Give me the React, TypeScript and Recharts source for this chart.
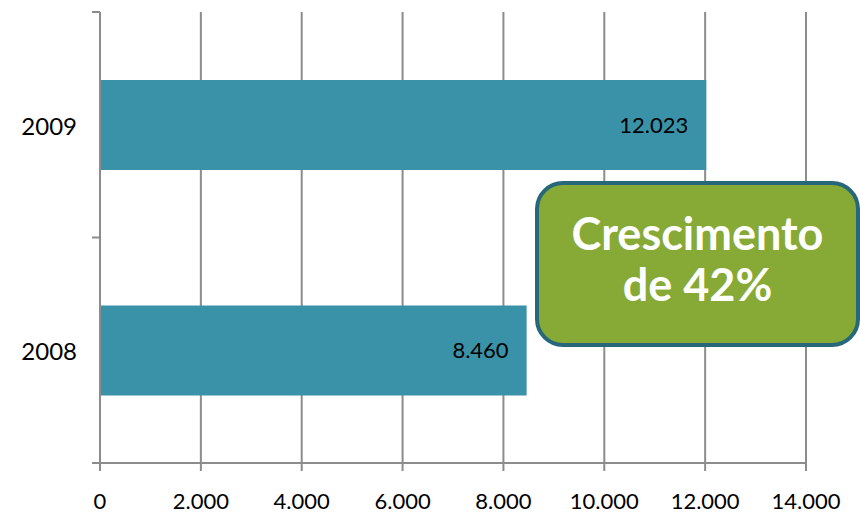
import { BarChart, Bar, XAxis, YAxis, CartesianGrid, LabelList } from "recharts";

const years = ["2009", "2008"];
const values = [12023, 8460];
const xTicks = [0, 2000, 4000, 6000, 8000, 10000, 12000, 14000];

const data = years.map((year, i) => ({ year, value: values[i] }));

const FONT = "Lato, 'Open Sans', sans-serif";
const AXIS = "#8c8c8c";

const fmt = (v: number) => v.toLocaleString("de-DE");

const YearTick = (props: any) => {
  const { x, y, payload, index, visibleTicksCount } = props;
  const half = payload?.offset ?? 112;
  const ax = x + 23;
  return (
    <g>
      <line x1={ax - 8} x2={ax} y1={y - half} y2={y - half} stroke={AXIS} strokeWidth={2} />
      {index === visibleTicksCount - 1 && (
        <line x1={ax - 8} x2={ax} y1={y + half} y2={y + half} stroke={AXIS} strokeWidth={2} />
      )}
      <text x={x} y={y + 4} textAnchor="end" dominantBaseline="middle" fontSize={24} fontFamily={FONT} fill="#000">
        {payload.value}
      </text>
    </g>
  );
};

const App = () => {
  return (
    <div style={{ position: "absolute", left: 0, top: 0, width: 860, height: 517, background: "#fff" }}>
      <BarChart
        layout="vertical"
        width={860}
        height={517}
        data={data}
        margin={{ top: 12, right: 54, bottom: 0, left: 0 }}
      >
        <CartesianGrid horizontal={false} stroke={AXIS} strokeWidth={2} />
        <XAxis
          type="number"
          domain={[0, 14000]}
          ticks={xTicks}
          interval={0}
          height={54}
          tickFormatter={fmt}
          axisLine={{ stroke: AXIS, strokeWidth: 2 }}
          tickLine={{ stroke: AXIS, strokeWidth: 2 }}
          tickSize={8}
          tickMargin={22}
          tick={{ fontSize: 22, fontFamily: FONT, fill: "#000" }}
        />
        <YAxis
          type="category"
          dataKey="year"
          width={100}
          axisLine={{ stroke: AXIS, strokeWidth: 2 }}
          tickLine={false}
          tickSize={0}
          tickMargin={23}
          tick={<YearTick />}
        />
        <Bar dataKey="value" fill="#3a92a8" barSize={90} isAnimationActive={false}>
          <LabelList
            dataKey="value"
            position="insideRight"
            offset={18}
            formatter={(v: any) => fmt(Number(v))}
            style={{ fontSize: 22, fontFamily: FONT, fill: "#000" }}
          />
        </Bar>
      </BarChart>
      <div
        style={{
          position: "absolute",
          left: 535,
          top: 181,
          width: 325,
          height: 166,
          boxSizing: "border-box",
          background: "#86aa35",
          border: "4px solid #26687a",
          borderRadius: 28,
          color: "#fff",
          fontFamily: FONT,
          fontWeight: 700,
          fontSize: 45,
          lineHeight: "51px",
          textAlign: "center",
          display: "flex",
          alignItems: "center",
          justifyContent: "center",
          paddingBottom: 10,
        }}
      >
        Crescimento
        <br />
        de 42%
      </div>
    </div>
  );
};

export default App;
